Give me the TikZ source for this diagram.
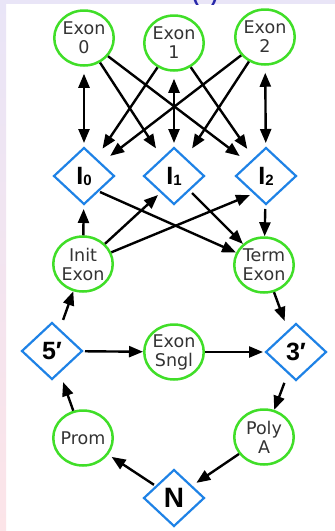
\documentclass[tikz,border=0pt]{standalone}
\usepackage{fontspec}
\usetikzlibrary{shapes.geometric,arrows.meta}
\newfontfamily\exfont{DejaVu Sans}
\newfontfamily\labfont{Liberation Sans}[Ligatures=TeXOff]
\definecolor{exgreen}{RGB}{64,222,40}
\definecolor{diablue}{RGB}{30,130,230}
\definecolor{lav}{RGB}{233,229,247}
\definecolor{pinkish}{RGB}{252,228,232}
\definecolor{titleblue}{RGB}{40,40,170}
\newcommand\subd[1]{\raisebox{-1pt}{\fontsize{15}{15}\selectfont #1}}
\begin{document}
\begin{tikzpicture}[x=1pt,y=-1pt,
 exon/.style={ellipse,draw=exgreen,line width=2.5pt,minimum width=59.5pt,minimum height=55pt,inner xsep=-8pt,inner ysep=-5pt,align=center,text=black!80,font=\exfont\fontsize{17.5}{19}\selectfont},
 gate/.style={circle,minimum size=66pt,inner sep=0pt,outer sep=0pt,font=\labfont\bfseries\fontsize{25}{25}\selectfont},
 gateline/.style={draw=diablue,line width=2.2pt,line join=miter},
 arr/.style={line width=2.4pt,-{Triangle[length=14pt,width=11pt]}},
 darr/.style={line width=2.4pt,{Triangle[length=14pt,width=11pt]}-{Triangle[length=14pt,width=11pt]}}
]
\useasboundingbox (0,0) rectangle (335,531);
\fill[white] (0,0) rectangle (335,531);
\shade[top color=lav,bottom color=pinkish] (0,0) rectangle (6,531);
\fill[lav] (0,0) rectangle (335,4);
\begin{scope}
\clip (0,0) rectangle (335,4.5);
\node[anchor=base,text=titleblue,font=\labfont\bfseries\fontsize{20}{20}\selectfont,inner sep=0pt] (title) at (205,1.5) {(\hspace{12pt})};
\end{scope}

\node[exon] (e0) at (84,38) {Exon\\0};
\node[exon] (e1) at (174,43) {Exon\\1};
\node[exon] (e2) at (265,37) {Exon\\2};
\node[gate] (i0) at (84,176) {I\subd{0}};
\node[gate] (i1) at (174,176) {I\subd{1}};
\node[gate] (i2) at (266,176) {I\subd{2}};
\node[exon] (init) at (83,264) {Init\\Exon};
\node[exon] (term) at (264,265) {Term\\Exon};
\node[gate] (p5) at (52,351) {5′};
\node[exon] (sngl) at (174,352) {Exon\\Sngl};
\node[gate] (p3) at (296,352) {3′};
\node[exon] (prom) at (83,438) {Prom};
\node[exon] (polya) at (264,437) {Poly\\A};
\node[gate,font=\labfont\bfseries\fontsize{28}{28}\selectfont] (n) at (174,498) {N};
\foreach \g in {i0,i1,i2,p5,p3,n}
  \draw[gateline] ([xshift=-30pt]\g.center) -- ([yshift=28pt]\g.center) -- ([xshift=30pt]\g.center) -- ([yshift=-28pt]\g.center) -- cycle;

\draw[darr,shorten <=7pt] (e0) -- (i0);
\draw[darr,shorten <=7pt] (e1) -- (i1);
\draw[darr,shorten <=7pt] (e2) -- (i2);
\draw[arr] (e0) -- (i1);
\draw[arr] (e0) -- (i2);
\draw[arr] (e1) -- (i0);
\draw[arr] (e1) -- (i2);
\draw[arr] (e2) -- (i0);
\draw[arr] (e2) -- (i1);
\draw[arr] (init) -- (i0);
\draw[arr] (init) -- ([xshift=-16pt,yshift=-19pt]i1.center);
\draw[arr] (init) -- ([xshift=-16pt,yshift=-19pt]i2.center);
\draw[arr] ([xshift=16pt,yshift=-16pt]i0.center) -- (term);
\draw[arr] ([xshift=18pt,yshift=-17pt]i1.center) -- (term);
\draw[arr] (i2) -- (term);
\draw[arr] (term) -- (p3);
\draw[arr] (p5) -- (init);
\draw[arr] (p5) -- (sngl);
\draw[arr] (sngl) -- (p3);
\draw[arr] (p3) -- (polya);
\draw[arr,shorten >=-6pt] (polya) -- (n);
\draw[arr,shorten <=-9pt,shorten >=4pt] (n) -- (prom);
\draw[arr] (prom) -- (p5);
\end{tikzpicture}
\end{document}
